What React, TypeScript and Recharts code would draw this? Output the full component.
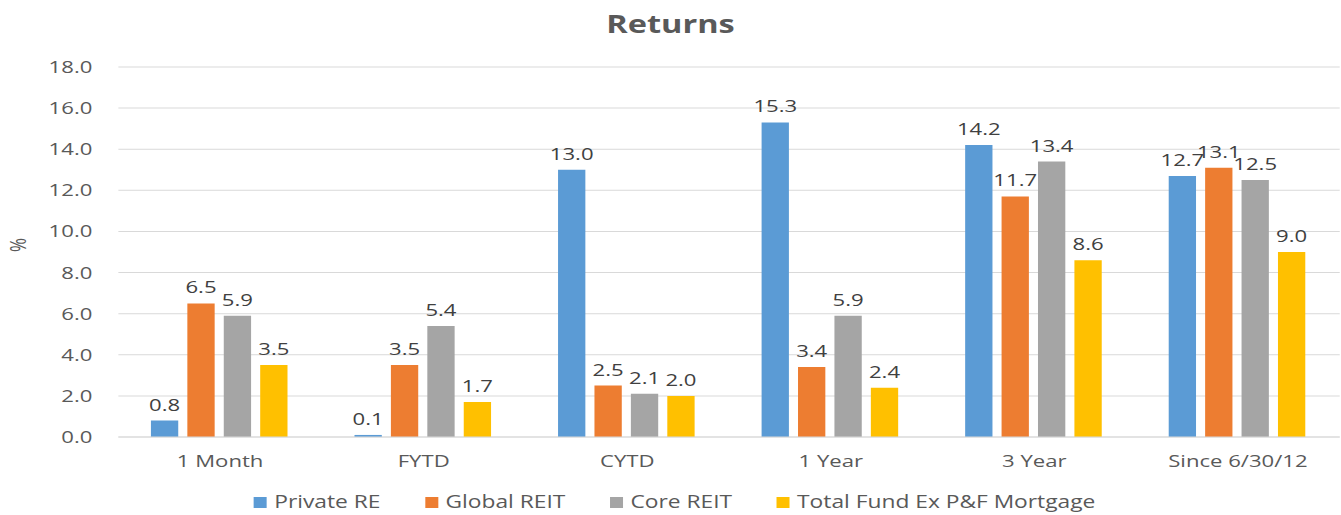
import React from 'react'
import { BarChart, Bar, XAxis, YAxis, CartesianGrid, LabelList, Label } from 'recharts'

const categories = ['1 Month', 'FYTD', 'CYTD', '1 Year', '3 Year', 'Since 6/30/12']
const privateRE = [0.8, 0.1, 13.0, 15.3, 14.2, 12.7]
const globalREIT = [6.5, 3.5, 2.5, 3.4, 11.7, 13.1]
const coreREIT = [5.9, 5.4, 2.1, 5.9, 13.4, 12.5]
const totalFund = [3.5, 1.7, 2.0, 2.4, 8.6, 9.0]
const yTicks = [0, 2, 4, 6, 8, 10, 12, 14, 16, 18]

const series = [
  { key: 'privateRE', name: 'Private RE', color: '#5B9BD5' },
  { key: 'globalREIT', name: 'Global REIT', color: '#ED7D31' },
  { key: 'coreREIT', name: 'Core REIT', color: '#A5A5A5' },
  { key: 'totalFund', name: 'Total Fund Ex P&F Mortgage', color: '#FFC000' },
]

const data = categories.map((c, i) => ({
  category: c,
  privateRE: privateRE[i],
  globalREIT: globalREIT[i],
  coreREIT: coreREIT[i],
  totalFund: totalFund[i],
}))

// the original picture is stretched sideways, so draw narrower and scale up
const W = 1031
const STRETCH = 1341 / W
const FONT = '"Open Sans", sans-serif'

export default function App() {
  return (
    <div
      style={{
        position: 'absolute',
        left: 0,
        top: 0,
        width: W,
        height: 515,
        transform: `scaleX(${STRETCH})`,
        transformOrigin: '0 0',
        fontFamily: FONT,
        background: '#fff',
      }}
    >
      <div
        style={{
          position: 'absolute',
          top: 6,
          left: 0,
          width: W,
          textAlign: 'center',
          fontSize: 25,
          lineHeight: '34px',
          fontWeight: 700,
          color: '#595959',
        }}
      >
        Returns
      </div>
      <BarChart
        width={W}
        height={515}
        data={data}
        margin={{ top: 67, right: 1, bottom: 48, left: 0 }}
        barCategoryGap="16%"
        barGap={7}
      >
        <CartesianGrid vertical={false} stroke="#D9D9D9" />
        <XAxis
          dataKey="category"
          tickLine={false}
          axisLine={{ stroke: '#D9D9D9' }}
          tick={{ fill: '#595959', fontSize: 17, fontFamily: FONT }}
          tickMargin={12}
          interval={0}
        />
        <YAxis
          width={91}
          domain={[0, 18]}
          ticks={yTicks}
          tickFormatter={(v: number) => v.toFixed(1)}
          axisLine={false}
          tickLine={false}
          tickMargin={14}
          tick={{ fill: '#595959', fontSize: 17, fontFamily: FONT }}
        >
          <Label
            value="%"
            angle={-90}
            position="insideLeft"
            offset={14}
            style={{ fill: '#595959', fontSize: 17, fontFamily: FONT }}
          />
        </YAxis>
        {series.map((s) => (
          <Bar key={s.key} dataKey={s.key} name={s.name} fill={s.color} isAnimationActive={false}>
            <LabelList
              dataKey={s.key}
              position="top"
              offset={10}
              formatter={(v: number) => v.toFixed(1)}
              style={{ fill: '#404040', fontSize: 17, fontFamily: FONT }}
            />
          </Bar>
        ))}
      </BarChart>
      <div
        style={{
          position: 'absolute',
          top: 491,
          left: 0,
          width: W,
          display: 'flex',
          justifyContent: 'center',
          fontSize: 17.5,
          lineHeight: '20px',
          color: '#595959',
          paddingLeft: 6,
          boxSizing: 'border-box',
        }}
      >
        {series.map((s) => (
          <div key={s.key} style={{ display: 'flex', alignItems: 'center', margin: '0 17px' }}>
            <span style={{ width: 10, height: 11, background: s.color, marginRight: 6, marginTop: 3 }} />
            <span style={{ whiteSpace: 'nowrap' }}>{s.name}</span>
          </div>
        ))}
      </div>
    </div>
  )
}
